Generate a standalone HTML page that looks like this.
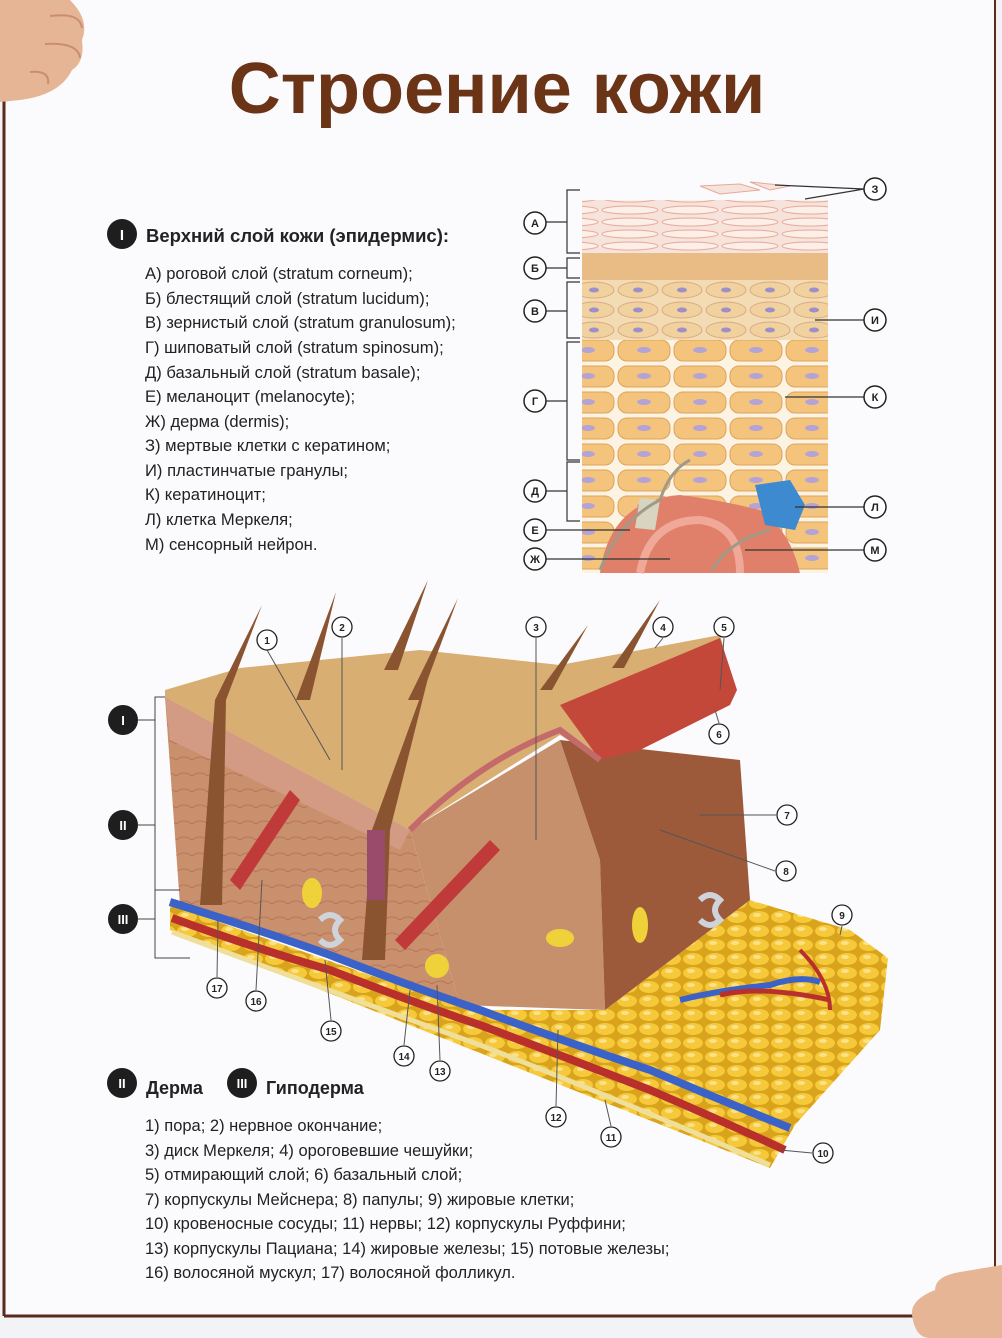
<!DOCTYPE html>
<html><head><meta charset="utf-8"><style>
html,body{margin:0;padding:0;background:#f3f3f5;}
svg{display:block;}
text{font-family:"Liberation Sans","DejaVu Sans",sans-serif;}
</style></head><body>
<svg width="1002" height="1338" viewBox="0 0 1002 1338" xmlns="http://www.w3.org/2000/svg">
<defs>
<pattern id="pink" width="60" height="12" patternUnits="userSpaceOnUse">
<rect width="60" height="12" fill="#f6e4dc"/>
<ellipse cx="30" cy="6" rx="28" ry="4" fill="#fbefe8" stroke="#e8a898" stroke-width="1"/>
</pattern>
<pattern id="gran" width="44" height="20" patternUnits="userSpaceOnUse">
<rect width="44" height="20" fill="#f3dcb4"/>
<ellipse cx="22" cy="10" rx="20" ry="8" fill="#f1d19e" stroke="#d9ab83" stroke-width="1"/>
<ellipse cx="22" cy="10" rx="5" ry="2.5" fill="#9f8fc9"/>
</pattern>
<pattern id="cells" width="56" height="26" patternUnits="userSpaceOnUse">
<rect width="56" height="26" fill="#fdf3e3"/>
<rect x="2" y="2" width="52" height="21" rx="9" fill="#f4c47c" stroke="#dca45c"/>
<ellipse cx="28" cy="12" rx="7" ry="3" fill="#b4a3d6"/>
</pattern>
<pattern id="fat" width="22" height="14" patternUnits="userSpaceOnUse">
<rect width="22" height="14" fill="#d9a41c"/>
<ellipse cx="11" cy="7" rx="10" ry="6" fill="#f5c93a"/>
<ellipse cx="9" cy="5" rx="4" ry="2" fill="#fbe28a"/>
</pattern>
<pattern id="derm" width="16" height="16" patternUnits="userSpaceOnUse">
<rect width="16" height="16" fill="#c9906e"/>
<path d="M0 8 Q8 2 16 8" stroke="#b86a52" stroke-width="0.8" fill="none"/>
</pattern>
</defs>
<rect x="0" y="0" width="1002" height="1338" fill="#f3f3f5"/>
<rect x="4" y="0" width="991" height="1316" fill="#fbfbfd"/>
<line x1="4" y1="95" x2="4" y2="1316" stroke="#5a2a1a" stroke-width="3"/>
<line x1="4" y1="1316" x2="930" y2="1316" stroke="#5a2a1a" stroke-width="3"/>
<line x1="995" y1="0" x2="995" y2="1270" stroke="#5a2a1a" stroke-width="2"/>
<path d="M0 0 L70 0 Q90 20 82 40 Q85 62 72 70 Q60 95 20 100 L0 102 Z" fill="#e5b596"/>
<path d="M50 16 Q80 12 82 28 M45 44 Q78 42 80 58 M30 72 Q50 70 48 84" stroke="#c98e70" stroke-width="2" fill="none"/>
<path d="M1002 1265 L960 1272 Q935 1276 935 1290 Q910 1300 912 1315 Q915 1338 930 1338 L1002 1338 Z" fill="#e5b596"/>
<text x="497" y="113" text-anchor="middle" font-size="72" font-weight="bold" fill="#6b3416">Строение кожи</text>
<circle cx="122" cy="234" r="15" fill="#1e1e1e"/>
<text x="122" y="240" text-anchor="middle" font-size="15" font-weight="bold" fill="#fff">I</text>
<text x="146" y="242" font-size="18.5" font-weight="bold" fill="#222">Верхний слой кожи (эпидермис):</text>
<g font-size="16.6" fill="#222">
<text x="145" y="279">А)  роговой слой (stratum corneum);</text>
<text x="145" y="304">Б)  блестящий слой (stratum lucidum);</text>
<text x="145" y="328">В)  зернистый слой (stratum granulosum);</text>
<text x="145" y="353">Г)  шиповатый слой (stratum spinosum);</text>
<text x="145" y="378">Д)  базальный слой (stratum basale);</text>
<text x="145" y="402">Е)  меланоцит (melanocyte);</text>
<text x="145" y="427">Ж) дерма (dermis);</text>
<text x="145" y="451">З)  мертвые клетки с кератином;</text>
<text x="145" y="476">И)  пластинчатые гранулы;</text>
<text x="145" y="500">К)  кератиноцит;</text>
<text x="145" y="525">Л)  клетка Меркеля;</text>
<text x="145" y="550">М) сенсорный нейрон.</text>
</g>
<rect x="582" y="200" width="246" height="54" fill="url(#pink)"/>
<path d="M700 186 L740 184 L760 190 L720 194 Z M750 182 L790 186 L770 190 Z" fill="#f6e4dc" stroke="#e8a898"/>
<rect x="582" y="253" width="246" height="28" fill="#e9bc86"/>
<rect x="582" y="280" width="246" height="60" fill="url(#gran)"/>
<rect x="582" y="340" width="246" height="233" fill="url(#cells)"/>
<path d="M600 573 Q610 500 680 495 Q720 500 760 510 Q790 530 800 573 Z" fill="#e0806a"/>
<path d="M640 573 Q650 520 700 520 Q740 525 740 573" stroke="#f0a898" stroke-width="8" fill="none"/>
<path d="M755 485 L790 480 L805 505 L795 530 L765 525 Z" fill="#3e8ad0"/>
<path d="M640 498 L660 500 L655 530 L635 528 Z" fill="#d7d4bf"/>
<path d="M600 570 Q620 520 660 500 Q670 470 690 460 M712 570 Q730 540 770 530" stroke="#a09a86" stroke-width="3" fill="none"/>
<g stroke="#333" stroke-width="1.2" fill="none">
<path d="M580 190 L567 190 L567 253 L580 253 M567 222 L545 222"/>
<path d="M580 258 L567 258 L567 278 L580 278 M567 268 L545 268"/>
<path d="M580 282 L567 282 L567 338 L580 338 M567 311 L545 311"/>
<path d="M580 342 L567 342 L567 460 L580 460 M567 401 L545 401"/>
<path d="M580 462 L567 462 L567 521 L580 521 M567 491 L545 491"/>
<path d="M545 530 L630 530 M545 559 L670 559"/>
<path d="M864 189 L775 185 M864 189 L805 199 M864 320 L815 320 M864 397 L785 397 M864 507 L795 507 M864 550 L745 550"/>
</g>
<g font-size="11" font-weight="bold" fill="#222" text-anchor="middle" stroke-width="1.5">
<g fill="#fff" stroke="#222">
<circle cx="535" cy="223" r="11"/><circle cx="535" cy="268" r="11"/><circle cx="535" cy="311" r="11"/><circle cx="535" cy="401" r="11"/><circle cx="535" cy="491" r="11"/><circle cx="535" cy="530" r="11"/><circle cx="535" cy="559" r="11"/>
<circle cx="875" cy="189" r="11"/><circle cx="875" cy="320" r="11"/><circle cx="875" cy="397" r="11"/><circle cx="875" cy="507" r="11"/><circle cx="875" cy="550" r="11"/>
</g>
<text x="535" y="227">А</text><text x="535" y="272">Б</text><text x="535" y="315">В</text><text x="535" y="405">Г</text><text x="535" y="495">Д</text><text x="535" y="534">Е</text><text x="535" y="563">Ж</text>
<text x="875" y="193">З</text><text x="875" y="324">И</text><text x="875" y="401">К</text><text x="875" y="511">Л</text><text x="875" y="554">М</text>
</g>
<polygon points="170,905 470,1010 605,1010 750,900 850,930 888,958 880,1030 795,1125 770,1168 170,930" fill="url(#fat)"/>
<polygon points="165,697 410,830 460,1005 180,905" fill="url(#derm)"/>
<polygon points="410,830 560,740 600,860 605,1010 460,1005" fill="#c6906c"/>
<polygon points="560,740 740,760 750,900 605,1010 600,860" fill="#9c5a3a"/>
<polygon points="165,697 410,830 400,850 170,740" fill="#d39a84"/>
<polygon points="165,690 240,668 420,650 560,665 720,635 735,690 600,760 560,735 410,830 165,697" fill="#d8ae72"/>
<polygon points="560,705 720,638 737,690 730,705 640,750 600,760" fill="#c4483a"/>
<path d="M410,830 Q480,760 560,730 L600,760" stroke="#c46a6a" stroke-width="6" fill="none"/>
<path d="M170 902 Q260 930 330 955 Q420 990 480 1010 Q560 1040 650 1070 Q720 1100 790 1128" stroke="#3b62c8" stroke-width="8" fill="none"/>
<path d="M172 918 Q260 950 330 970 Q420 1005 480 1025 Q560 1055 650 1090 Q720 1120 785 1150" stroke="#b82f2c" stroke-width="8" fill="none"/>
<path d="M172 932 Q300 980 480 1045 Q620 1100 770 1165" stroke="#efdf9a" stroke-width="5" fill="none"/>
<path d="M680 1000 Q720 990 770 985 Q800 975 820 982" stroke="#3b62c8" stroke-width="6" fill="none"/>
<path d="M720 995 Q760 985 830 1000" stroke="#b82f2c" stroke-width="5" fill="none"/>
<path d="M800 950 Q830 980 830 1010" stroke="#b82f2c" stroke-width="4" fill="none"/>
<g fill="#8a5430">
<path d="M200 905 L215 700 L262 605 L226 700 L222 905 Z"/>
<path d="M296 700 L336 592 L310 700 Z"/>
<path d="M384 670 L428 580 L398 670 Z"/>
<path d="M408 700 L458 598 L420 700 Z"/>
<path d="M540 690 L588 625 L552 690 Z"/>
<path d="M612 668 L660 600 L624 668 Z"/>
<path d="M362 960 L372 830 L430 670 L390 830 L385 960 Z"/>
</g>
<rect x="367" y="830" width="18" height="70" fill="#9a4a6a"/>
<path d="M230 880 L290 790 L300 800 L240 890 Z M395 940 L490 840 L500 850 L405 950 Z" fill="#c03a3a"/>
<ellipse cx="312" cy="893" rx="10" ry="15" fill="#efd23a"/>
<ellipse cx="437" cy="966" rx="12" ry="12" fill="#efd23a"/>
<ellipse cx="560" cy="938" rx="14" ry="9" fill="#efd23a"/>
<ellipse cx="640" cy="925" rx="8" ry="18" fill="#efd23a"/>
<path d="M320 920 q10 -10 20 0 q-10 10 0 20 q-10 10 -20 0" stroke="#cfd3dc" stroke-width="6" fill="none"/>
<path d="M700 900 q10 -10 20 0 q-10 10 0 20 q-10 10 -20 0" stroke="#cfd3dc" stroke-width="6" fill="none"/>
<g stroke="#444" stroke-width="1" fill="none">
<path d="M138 720 L155 720 M155 697 L165 697 L155 697 L155 890 L165 890 M138 825 L155 825 M155 890 L180 890 M155 890 L155 958 L190 958 M138 919 L155 919"/>
</g>
<g fill="#1e1e1e"><circle cx="123" cy="720" r="15"/><circle cx="123" cy="825" r="15"/><circle cx="123" cy="919" r="15"/></g>
<g fill="#fff" font-size="13" font-weight="bold" text-anchor="middle">
<text x="123" y="725">I</text><text x="123" y="830">II</text><text x="123" y="924">III</text>
</g>
<g stroke="#555" stroke-width="1" fill="none">
<path d="M267 650 L330 760 M342 638 L342 770 M536 638 L536 840 M663 638 L655 648 M724 638 L720 690 M719 723 L715 710 M776 815 L700 815 M775 871 L660 830 M842 926 L840 935 M812 1153 L780 1150 M611 1126 L605 1100 M556 1106 L558 1030 M440 1060 L437 985 M404 1045 L410 990 M331 1020 L325 960 M256 990 L262 880 M217 977 L218 920"/>
</g>
<g fill="#fff" stroke="#222" stroke-width="1.3">
<circle cx="267" cy="640" r="10"/><circle cx="342" cy="627" r="10"/><circle cx="536" cy="627" r="10"/><circle cx="663" cy="627" r="10"/><circle cx="724" cy="627" r="10"/><circle cx="719" cy="734" r="10"/><circle cx="787" cy="815" r="10"/><circle cx="786" cy="871" r="10"/><circle cx="842" cy="915" r="10"/><circle cx="823" cy="1153" r="10"/><circle cx="611" cy="1137" r="10"/><circle cx="556" cy="1117" r="10"/><circle cx="440" cy="1071" r="10"/><circle cx="404" cy="1056" r="10"/><circle cx="331" cy="1031" r="10"/><circle cx="256" cy="1001" r="10"/><circle cx="217" cy="988" r="10"/>
</g>
<g font-size="10" font-weight="bold" fill="#222" text-anchor="middle">
<text x="267" y="644">1</text><text x="342" y="631">2</text><text x="536" y="631">3</text><text x="663" y="631">4</text><text x="724" y="631">5</text><text x="719" y="738">6</text><text x="787" y="819">7</text><text x="786" y="875">8</text><text x="842" y="919">9</text><text x="823" y="1157">10</text><text x="611" y="1141">11</text><text x="556" y="1121">12</text><text x="440" y="1075">13</text><text x="404" y="1060">14</text><text x="331" y="1035">15</text><text x="256" y="1005">16</text><text x="217" y="992">17</text>
</g>
<circle cx="122" cy="1083" r="15" fill="#1e1e1e"/>
<text x="122" y="1088" text-anchor="middle" font-size="13" font-weight="bold" fill="#fff">II</text>
<text x="146" y="1094" font-size="18" font-weight="bold" fill="#222">Дерма</text>
<circle cx="242" cy="1083" r="15" fill="#1e1e1e"/>
<text x="242" y="1088" text-anchor="middle" font-size="13" font-weight="bold" fill="#fff">III</text>
<text x="266" y="1094" font-size="18" font-weight="bold" fill="#222">Гиподерма</text>
<g font-size="16.5" fill="#222">
<text x="145" y="1131">1) пора; 2) нервное окончание;</text>
<text x="145" y="1156">3) диск Меркеля; 4) ороговевшие чешуйки;</text>
<text x="145" y="1180">5) отмирающий слой; 6) базальный слой;</text>
<text x="145" y="1205">7) корпускулы Мейснера; 8) папулы; 9) жировые клетки;</text>
<text x="145" y="1229">10) кровеносные сосуды; 11) нервы; 12) корпускулы Руффини;</text>
<text x="145" y="1254">13) корпускулы Пациана; 14) жировые железы; 15) потовые железы;</text>
<text x="145" y="1278">16) волосяной мускул; 17) волосяной фолликул.</text>
</g>
</svg>
</body></html>
